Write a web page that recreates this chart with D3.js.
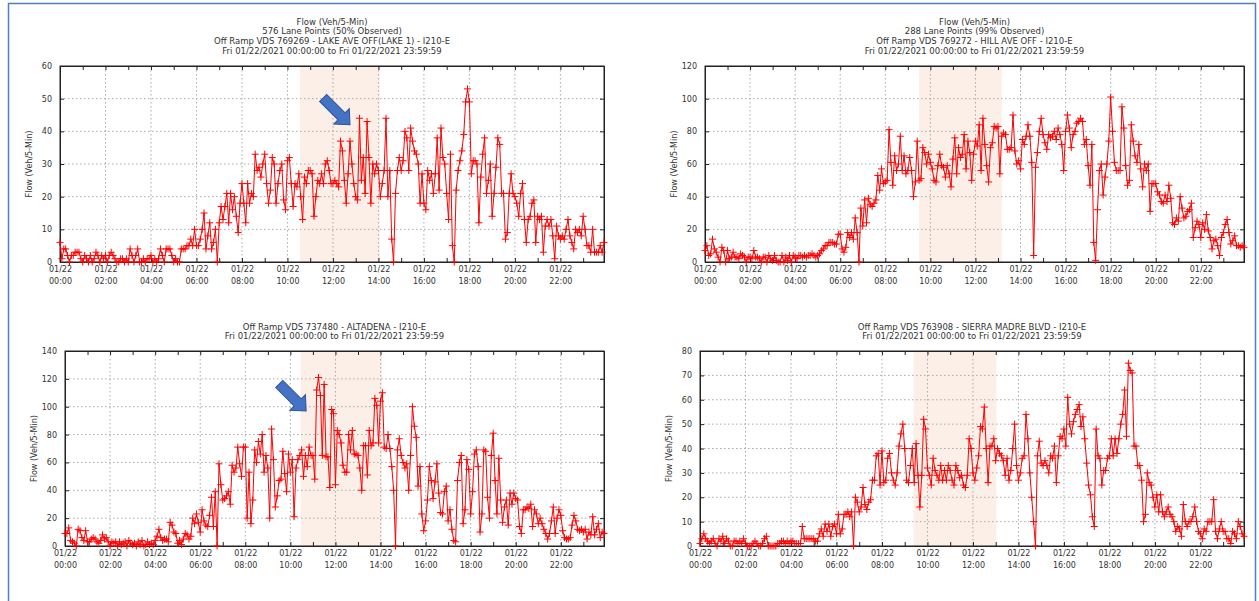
<!DOCTYPE html>
<html>
<head>
<meta charset="utf-8">
<script src="https://cdn.jsdelivr.net/npm/d3@7"></script>
<style>
  body { margin: 0; background: #fff; }
  svg text { font-family: "DejaVu Sans", Verdana, sans-serif; fill: #333; }
</style>
</head>
<body>
<div id="chart"></div>
<script>
//tick labels for the time axis (every 2 hours)
const tickHours = [0, 2, 4, 6, 8, 10, 12, 14, 16, 18, 20, 22];
const tickDate = "01/22";

//flow values, 5 minute steps, one row per hour
const lakeAve = [
  6,1,4,4,2,0,2,2,3,3,3,1,   0,2,1,0,2,0,1,3,2,0,2,1,
  2,0,2,3,2,1,0,0,1,1,0,1,   0,4,2,0,2,4,0,0,1,0,1,1,
  2,0,1,0,1,4,2,0,4,4,4,2,   0,1,0,0,4,4,4,5,5,7,5,10,
  5,5,7,10,15,4,8,12,4,6,10,0,   12,17,13,17,21,12,21,16,20,14,9,18,
  24,18,12,24,18,21,20,33,28,29,26,30,   33,24,18,22,32,30,18,24,28,30,19,16,
  31,32,24,17,24,23,27,20,13,26,24,28,   28,27,14,20,25,24,27,24,30,31,28,24,
  24,25,24,23,37,34,25,18,27,37,30,24,   20,19,44,25,32,21,43,32,18,30,27,30,
  28,20,24,28,44,20,28,7,0,21,28,32,   28,31,40,38,28,41,37,34,33,30,18,27,
  18,16,28,25,27,21,27,38,22,41,32,30,   21,13,33,5,0,22,28,31,34,39,49,53,
  49,27,31,31,30,12,26,33,38,21,25,30,   14,21,29,38,36,21,21,7,9,21,27,21,
  20,18,14,21,24,13,6,13,14,18,19,6,   14,13,14,3,11,13,11,13,8,1,11,8,
  7,8,7,10,13,8,6,4,10,9,10,8,   14,10,5,5,3,10,3,3,3,5,3,6
];
const hillAve = [
  7,10,4,5,14,8,6,3,0,9,7,0,   7,2,3,6,3,3,2,5,4,3,0,3,
  3,2,7,3,3,2,0,3,3,0,4,2,   1,4,1,0,0,4,0,3,1,4,0,4,
  3,2,4,4,3,4,3,4,4,5,4,3,   4,5,7,8,10,10,12,12,12,11,11,17,
  17,8,6,9,18,15,18,14,27,18,0,33,   22,38,24,39,35,34,36,38,53,44,57,48,
  49,50,81,61,47,65,56,60,77,56,65,54,   56,64,56,40,49,74,50,51,70,67,60,66,
  61,57,50,49,59,66,59,58,52,59,54,46,   63,76,54,70,64,66,78,57,74,67,50,66,
  74,71,84,56,88,72,59,49,70,73,83,82,   83,54,77,79,78,69,69,70,90,68,60,62,
  57,75,72,77,84,77,61,4,58,67,80,88,   78,73,69,78,76,77,80,75,82,78,72,56,
  80,90,82,70,78,80,85,86,88,86,72,75,   59,47,72,12,1,32,56,60,41,52,60,74,
  101,80,61,56,56,56,95,82,59,47,50,84,   74,65,61,72,57,46,60,56,60,31,48,48,
  48,43,41,37,36,41,37,47,39,24,23,27,   25,40,33,27,28,31,32,36,15,21,25,23,
  15,24,20,29,19,15,8,13,14,10,4,15,   18,23,26,18,11,13,16,10,10,9,10,9
];
const altadena = [
  9,9,13,4,3,2,0,12,11,6,4,11,   3,3,5,6,5,3,2,4,8,5,6,3,
  0,3,2,3,0,3,1,2,3,0,4,2,   1,2,0,3,1,4,0,1,3,1,2,1,
  4,7,12,6,4,5,5,3,17,15,10,9,   2,4,1,5,9,8,5,7,20,16,23,17,
  10,26,18,15,14,22,35,14,39,0,59,44,   33,34,36,39,30,58,53,56,71,59,50,71,
  71,20,53,16,33,69,60,75,66,80,53,65,   56,20,84,62,28,36,47,48,68,52,39,66,
  53,62,21,56,62,65,69,50,65,57,71,65,   65,48,112,121,108,65,116,64,64,42,98,95,
  44,83,80,74,58,53,53,80,69,83,66,66,   65,56,40,72,72,51,83,72,74,106,101,74,
  104,110,71,70,80,70,57,40,0,69,77,65,   60,56,59,40,65,100,86,78,43,57,23,11,
  18,33,57,47,34,46,59,38,24,23,39,43,   18,26,12,4,3,47,60,65,16,26,62,55,
  23,39,66,69,57,10,23,69,68,35,20,65,   81,47,23,63,33,17,28,33,15,38,30,38,
  34,33,14,9,26,26,28,27,30,14,26,23,   16,20,16,12,9,5,9,18,28,9,20,26,
  22,11,6,5,5,6,15,22,18,12,11,12,   10,12,5,10,8,21,8,12,16,6,10,9
];
const sierraMadre = [
  1,3,5,3,2,1,2,3,1,0,3,2,   4,1,3,2,0,0,2,2,1,2,1,3,
  1,0,0,0,1,2,1,0,0,1,3,4,   0,0,0,0,0,1,1,2,2,1,2,1,
  2,2,1,1,1,1,8,3,3,3,3,3,   3,2,2,5,7,4,9,6,9,4,8,9,
  5,13,5,7,13,13,14,12,14,0,20,18,   14,16,24,17,15,18,19,27,27,37,38,25,
  39,26,27,36,38,30,27,25,30,41,46,50,   40,27,26,33,40,26,42,29,16,29,52,48,
  32,29,25,36,31,29,27,33,27,31,27,33,   31,27,25,33,31,28,29,25,24,29,44,40,
  30,27,32,37,49,48,57,40,26,41,41,44,   35,40,38,37,35,29,36,27,31,40,50,33,
  27,30,36,37,54,44,30,20,10,0,37,43,   34,33,35,33,30,37,36,41,26,37,45,44,
  48,41,61,50,46,51,54,56,58,49,53,44,   34,25,21,12,8,48,37,36,25,31,31,36,
  37,44,37,44,38,44,50,54,64,45,75,72,   71,41,41,33,33,27,10,13,30,26,25,20,
  16,21,14,21,14,12,14,16,13,12,10,6,   8,7,4,17,10,8,10,10,12,16,10,6,
  5,3,7,6,10,10,10,19,6,3,7,10,   6,6,3,3,1,6,5,3,10,8,5,4
];

//titles of each panel
const titles1 = ["Flow (Veh/5-Min)", "576 Lane Points (50% Observed)",
  "Off Ramp VDS 769269 - LAKE AVE OFF(LAKE 1) - I210-E",
  "Fri 01/22/2021 00:00:00 to Fri 01/22/2021 23:59:59"];
const titles2 = ["Flow (Veh/5-Min)", "288 Lane Points (99% Observed)",
  "Off Ramp VDS 769272 - HILL AVE OFF - I210-E",
  "Fri 01/22/2021 00:00:00 to Fri 01/22/2021 23:59:59"];
const titles3 = ["Off Ramp VDS 737480 - ALTADENA - I210-E",
  "Fri 01/22/2021 00:00:00 to Fri 01/22/2021 23:59:59"];
const titles4 = ["Off Ramp VDS 763908 - SIERRA MADRE BLVD - I210-E",
  "Fri 01/22/2021 00:00:00 to Fri 01/22/2021 23:59:59"];

//y axis maximum and step for each panel
const yMax = [60, 120, 140, 80];
const yStep = [10, 20, 20, 10];

//highlighted time window (hours) for each panel
const shade1 = [10.55, 14.07];
const shade2 = [9.5, 13.17];
const shade3 = [10.46, 14.08];
const shade4 = [9.39, 13.03];

//annotation arrows: tip at [hour, flow]
const arrow1 = [12.75, 42];
const arrow3 = [10.7, 97];

const yLabel = "Flow (Veh/5-Min)";

const width = 1259;
const height = 601;

const svg = d3.select("#chart")
  .append("svg")
  .attr("width", width)
  .attr("height", height);

//outer blue frame
svg.append("rect")
  .attr("x", 8.5).attr("y", 3.5)
  .attr("width", 1247).attr("height", 620)
  .attr("fill", "none")
  .attr("stroke", "#4f7fbf")
  .attr("stroke-width", 1.5);

const panels = [
  { data: lakeAve, titles: titles1, shade: shade1, arrow: arrow1, box: { l: 60, r: 604, t: 66, b: 262 }, titleY: 22 },
  { data: hillAve, titles: titles2, shade: shade2, arrow: null, box: { l: 705, r: 1244, t: 66, b: 262 }, titleY: 22 },
  { data: altadena, titles: titles3, shade: shade3, arrow: arrow3, box: { l: 65, r: 604, t: 351, b: 546 }, titleY: 327 },
  { data: sierraMadre, titles: titles4, shade: shade4, arrow: null, box: { l: 700, r: 1244, t: 351, b: 546 }, titleY: 327 }
];

panels.forEach((p, i) => drawPanel(p, i));

function drawPanel(p, i) {
  const box = p.box;
  const w = box.r - box.l;
  const h = box.b - box.t;

  //hours on x, last point (23:55) on the right edge
  const x = d3.scaleLinear().domain([0, 287 / 12]).range([0, w]);
  const y = d3.scaleLinear().domain([0, yMax[i]]).range([h, 0]);
  const yTicks = d3.range(0, yMax[i] + 0.1, yStep[i]);

  const g = svg.append("g").attr("transform", `translate(${box.l},${box.t})`);

  //shaded window
  g.append("rect")
    .attr("x", x(p.shade[0]))
    .attr("y", 0)
    .attr("width", x(p.shade[1]) - x(p.shade[0]))
    .attr("height", h)
    .attr("fill", "#fcefe7");

  //dotted grid
  g.append("g")
    .selectAll("line")
    .data(tickHours.slice(1))
    .join("line")
    .attr("x1", (d) => x(d)).attr("x2", (d) => x(d))
    .attr("y1", 0).attr("y2", h)
    .attr("stroke", "#aaa")
    .attr("stroke-dasharray", "1.5,2.5");
  g.append("g")
    .selectAll("line")
    .data(yTicks.slice(1, -1))
    .join("line")
    .attr("x1", 0).attr("x2", w)
    .attr("y1", (d) => y(d)).attr("y2", (d) => y(d))
    .attr("stroke", "#aaa")
    .attr("stroke-dasharray", "1.5,2.5");

  //y axis, ticks pointing inward on both sides
  g.append("g")
    .call(d3.axisLeft(y).tickValues(yTicks).tickSize(-4).tickPadding(8).tickFormat(d3.format("d")));
  g.append("g")
    .attr("transform", `translate(${w},0)`)
    .call(d3.axisRight(y).tickValues(yTicks).tickSize(-4).tickFormat(""));

  //x axis, minor hour ticks plus 2-hour labels
  const hours = d3.range(0, 24);
  const xAxis = g.append("g")
    .attr("transform", `translate(0,${h})`)
    .call(d3.axisBottom(x).tickValues(hours).tickSize(-4).tickPadding(4)
      .tickFormat((d) => (d % 2 === 0 ? d : "")));
  g.append("g")
    .call(d3.axisTop(x).tickValues(hours).tickSize(-4).tickFormat(""));

  //two line time labels
  xAxis.selectAll(".tick text").each(function (d) {
    const t = d3.select(this);
    t.text(null);
    if (d % 2 !== 0) return;
    t.append("tspan").attr("x", 0).attr("dy", "0.71em").text(tickDate);
    t.append("tspan").attr("x", 0).attr("dy", "1.5em").text(d3.format("02d")(d) + ":00");
  });

  g.selectAll(".domain").attr("stroke", "#222");
  g.selectAll(".tick line").attr("stroke", "#222");
  g.selectAll(".tick text").style("font-size", "8px").attr("fill", "#333");

  //plot frame
  g.append("rect")
    .attr("width", w).attr("height", h)
    .attr("fill", "none")
    .attr("stroke", "#222");

  //series line and + markers
  const pts = p.data.map((v, k) => ({ t: k / 12, v }));
  g.append("path")
    .datum(pts)
    .attr("fill", "none")
    .attr("stroke", "#ff0000")
    .attr("stroke-width", 1)
    .attr("d", d3.line().x((d) => x(d.t)).y((d) => y(d.v)));

  g.append("g")
    .selectAll("path")
    .data(pts)
    .join("path")
    .attr("transform", (d) => `translate(${x(d.t)},${y(d.v)})`)
    .attr("d", "M-3.5,0H3.5M0,-3.5V3.5")
    .attr("stroke", "#ff0000")
    .attr("stroke-width", 1);

  //y axis label
  svg.append("text")
    .attr("transform", `translate(${box.l - 31},${box.t + h / 2}) rotate(-90)`)
    .attr("text-anchor", "middle")
    .attr("dominant-baseline", "middle")
    .style("font-size", "8px")
    .text(yLabel);

  //title block
  svg.append("g")
    .selectAll("text")
    .data(p.titles)
    .join("text")
    .attr("x", box.l + w / 2)
    .attr("y", (d, k) => p.titleY + k * 9.8)
    .attr("text-anchor", "middle")
    .attr("dominant-baseline", "middle")
    .style("font-size", "8.5px")
    .text((d) => d);

  //blue block arrow pointing down-right to the peak
  if (p.arrow) {
    const tipX = box.l + x(p.arrow[0]);
    const tipY = box.t + y(p.arrow[1]);
    svg.append("path")
      .attr("transform", `translate(${tipX},${tipY}) rotate(45)`)
      .attr("d", "M0,0 L-12,-11 L-12,-5 L-38,-5 L-38,5 L-12,5 L-12,11 Z")
      .attr("fill", "#4472c4")
      .attr("stroke", "#2f5597")
      .attr("stroke-width", 1);
  }
}
</script>
</body>
</html>
